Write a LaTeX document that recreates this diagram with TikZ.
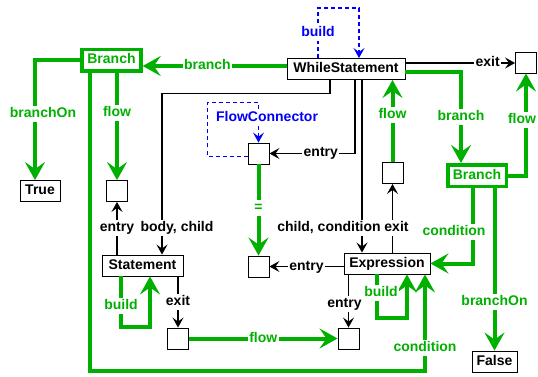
\documentclass[tikz,border=0pt]{standalone}
\usepackage{fontspec}
\setmainfont{Liberation Sans}
\usetikzlibrary{arrows.meta,calc}
\definecolor{grn}{RGB}{0,176,0}
\definecolor{blu}{RGB}{0,0,250}
\begin{document}
\begin{tikzpicture}[x=1pt,y=-1pt,
  font=\fontsize{14}{16}\selectfont\bfseries,
  box/.style={draw=black, line width=0.9pt, fill=white, inner sep=0pt,
    minimum height=21pt, text height=10pt, text depth=3pt},
  sq/.style={draw=black, line width=0.9pt, fill=white, inner sep=0pt, minimum size=21pt},
  brbox/.style={draw=grn, line width=3.5pt, fill=white, text=grn, inner sep=0pt,
    minimum width=59pt, minimum height=21.5pt, text height=10pt, text depth=3pt},
  lbl/.style={fill=white, inner sep=1.5pt, text height=10pt, text depth=3pt},
  gl/.style={lbl, text=grn},
  bl/.style={lbl, text=black},
  ul/.style={lbl, text=blu},
  gcon/.style={draw=grn, line width=4pt, line join=miter,
    -{Stealth[length=18pt, width=20pt, inset=7pt]}},
  bcon/.style={draw=black, line width=1.1pt,
    -{Stealth[length=10pt, width=11pt, inset=4pt]}},
  ucon/.style={draw=blu, line width=1.1pt, dash pattern=on 4pt off 3pt,
    -{Stealth[length=10pt, width=11pt, inset=4pt]}},
]
\useasboundingbox (0,0) rectangle (538,377);

% nodes
\node[box, minimum width=118pt] (ws) at (346,69) {WhileStatement};
\node[brbox] (brL) at (111.5,60.5) {Branch};
\node[box, minimum width=40pt] (true) at (40,191) {True};
\node[sq] (sqA) at (117,191) {};
\node[box, minimum width=81pt] (st) at (142.5,265.5) {Statement};
\node[sq] (sqB) at (178,338.5) {};
\node[sq] (fc) at (258.5,153.5) {};
\node[sq] (sqC) at (258.5,266.5) {};
\node[box, minimum width=86pt] (ex) at (387,263.5) {Expression};
\node[sq] (sqD) at (392.5,173) {};
\node[sq] (sqE) at (348.5,338.5) {};
\node[sq] (sqX) at (526,62.5) {};
\node[brbox, minimum width=58.5pt] (brR) at (477,175.5) {Branch};
\node[box, minimum width=45pt] (false) at (494.5,361.5) {False};

% attachment points on the WhileStatement box
\coordinate (wsExit) at ($(ws.east)+(0,-6)$);
\coordinate (wsBrR) at ($(ws.east)+(0,3)$);
\coordinate (wsBrL) at ($(ws.west)+(0,-3)$);

% black structural connectors
\draw[bcon] ($(ws.south)+(-16,0)$) -- ++(0,14) -| node[bl, pos=0.917, xshift=15pt] {body, child} ($(st.north)+(19.5,0)$);
\draw[bcon] (st.north -| sqA) -- node[bl] {entry} (sqA.south);
\draw[bcon] (st.south -| sqB) -- node[bl] {exit} (sqB.north);
\draw[bcon] ($(ws.south)+(9,0)$) |- node[bl, pos=0.7] {entry} (fc.east);
\draw[bcon] ($(ws.south)+(16,0)$) -- node[bl, pos=0.856, xshift=-33pt] {child, condition} ($(ex.north)+(-25,0)$);
\draw[bcon] (ex.north -| sqD) -- node[bl, pos=0.36, xshift=4pt] {exit} (sqD.south);
\draw[bcon] (ex.west |- sqC) -- node[bl] {entry} (sqC.east);
\draw[bcon] (ex.south -| sqE) -- node[bl, pos=0.55, xshift=-4pt] {entry} (sqE.north);
\draw[bcon] (wsExit) -- node[bl, pos=0.75] {exit} (wsExit -| sqX.west);

% dashed build loops
\draw[ucon] ($(ws.north)+(-28,0)$) -- node[ul] {build} ++(0,-50) -| ($(ws.north)+(13,0)$);
\draw[ucon] ($(fc.west)+(0,3)$) -- ++(-40,0) -- ++(0,-54) -| (fc.north);
\node[ul] (fclabel) at ($(fc.north)+(8.5,-25)$) {FlowConnector};

% green flow connectors
\draw[gcon] (wsBrL) -- node[gl, pos=0.55] {branch} (wsBrL -| brL.east);
\draw[gcon] (brL.west) -| node[gl, pos=0.725, xshift=8pt] {branchOn} ($(true.north)+(-5,0)$);
\draw[gcon] (brL.south -| sqA) -- node[gl, pos=0.37] {flow} (sqA.north);
\draw[gcon] ($(brL.south)+(-22,0)$) |- ($(ex.south)+(38,97)$) -- node[gl, pos=0.24] {condition} ($(ex.south)+(38,0)$);
\draw[gcon] ($(st.south)+(-21.5,0)$) -- node[gl, pos=0.57] {build} ++(0,51) -| ($(st.south)+(7.5,0)$);
\draw[gcon] (sqB.east) -- node[gl] {flow} (sqE.west);
\draw[gcon] (fc.south) -- node[gl, pos=0.48] {=} (sqC.north);
\draw[gcon] (sqD.north) -- node[gl, pos=0.57] {flow} (sqD.north |- ws.south);
\draw[gcon] ($(ex.south)+(-10,0)$) -- node[gl, pos=0.43, xshift=4pt] {build} ++(0,44) -| ($(ex.south)+(20,0)$);
\draw[gcon] (wsBrR) -| node[gl, pos=0.75] {branch} ($(brR.north)+(-16,0)$);
\draw[gcon] (brR.east) -| node[gl, pos=0.77, xshift=-4pt] {flow} (sqX.south);
\draw[gcon] ($(brR.south)+(-4,0)$) |- node[gl, pos=0.29, xshift=-19pt] {condition} (ex.east);
\draw[gcon] (false.north |- brR.south) -- node[gl, pos=0.7] {branchOn} (false.north);
\end{tikzpicture}
\end{document}
